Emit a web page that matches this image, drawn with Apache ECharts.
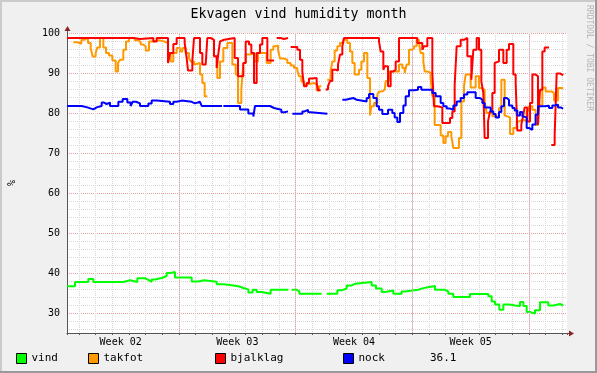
<!DOCTYPE html>
<html><head><meta charset="utf-8">
<script src="https://cdn.jsdelivr.net/npm/echarts@6/dist/echarts.min.js"></script>
<style>html,body{margin:0;padding:0;background:#f0f0f0}#c{width:597px;height:373px}</style>
</head><body><div id="c"></div>
<script>
const chartTitle = 'Ekvagen vind humidity month';
const yAxisName = '%';
const credit = 'RRDTOOL / TOBI OETIKER';
const lastValueText = '36.1';
// time in days since graph start; graph start is START_OFFSET days after Monday 00:00 of week 02
const START_OFFSET = 0.28;
const SPAN_DAYS = 30;
const END_TIME = 29.77;
const FIRST_WEEK = 2;
const weekStarts = [7, 14, 21, 28];
const yMin = 25, yMax = 100;
const seriesNames = ['vind', 'takfot', 'bjalklag', 'nock'];
const seriesColors = ['#00ff00', '#ff9900', '#ff0000', '#0000ff'];

const vind = [[0,36.7],[0.48,37.75],[1.28,38.5],[1.58,37.75],[3.38,38.2],[3.78,37.75],[4.22,38.7],[4.68,38.3],[4.88,37.8],[5.08,38.4],[5.28,38.75],[5.68,39.25],[5.98,40],[6.22,40.25],[6.48,38.9],[7.48,37.9],[7.88,38.2],[8.22,37.8],[8.98,37.2],[9.38,36.9],[9.98,36.7],[10.28,36.25],[10.58,35.9],[10.88,35.1],[11.14,35.8],[11.38,35.25],[11.68,34.8],[12.22,35.8],[13.28,null],[13.48,35.8],[13.78,35.4],[13.94,34.8],[15.28,null],[15.58,34.8],[16.22,35.7],[16.48,36.1],[16.78,36.9],[17.08,37.3],[17.28,37.75],[18.28,36.9],[18.54,36.1],[18.88,35.25],[19.08,35.6],[19.58,34.8],[20.08,35.4],[20.28,35.8],[21.08,36.1],[21.28,36.4],[21.58,36.75],[22.08,35.8],[22.68,35.4],[22.88,34.8],[23.18,34],[24.18,34.75],[25.28,34.2],[25.48,32.9],[25.68,32.1],[25.94,30.8],[26.18,32.1],[26.54,31.9],[26.88,31.75],[27.18,32.75],[27.38,31.75],[27.58,30.25],[27.78,29.85],[28.08,30.7],[28.38,32.7],[28.88,31.9],[29.18,32.25],[29.58,31.85]];

const takfot = [[0.38,97.7],[0.62,97.3],[0.86,98.3],[1.02,98.75],[1.26,97.5],[1.42,96.25],[1.54,94.1],[1.72,95],[1.82,96.4],[1.98,98.75],[2.18,96.4],[2.34,95],[2.52,94.4],[2.72,93.1],[2.92,90.4],[3.06,92.5],[3.18,93.3],[3.38,95.8],[3.54,97.9],[3.72,98.75],[4.06,98.2],[4.26,97.75],[4.42,97.1],[4.58,96.7],[4.72,95.6],[4.92,97.9],[5.12,98.2],[5.52,97.9],[5.82,97.5],[6.06,95],[6.22,92.9],[6.38,95],[6.58,96.25],[6.78,95.4],[6.92,96.25],[7.12,95],[7.32,93.75],[7.42,92.9],[7.62,92.1],[7.72,92.5],[7.98,89.6],[8.12,87.5],[8.26,84.2],[8.42,null],[8.82,94.2],[9.02,88.75],[9.18,92.9],[9.38,96.25],[9.62,97.5],[9.92,92.1],[10.12,89.6],[10.26,82.5],[10.46,85.8],[10.58,92.5],[10.72,94.6],[10.98,95],[11.26,92.9],[11.46,95],[11.82,95],[11.98,92.5],[12.22,95.8],[12.38,96.7],[12.52,96.9],[12.66,95.8],[12.78,93.6],[13.02,93.3],[13.22,92.5],[13.42,91.9],[13.62,91.25],[13.82,90.6],[13.92,89.2],[14.06,87.9],[14.22,87.1],[14.38,87.5],[14.82,87.1],[14.98,85.6],[15.12,86.7],[15.26,null],[15.62,88.3],[15.82,90.4],[15.92,92.9],[16.06,95.6],[16.22,96.7],[16.38,97.5],[16.58,98.3],[16.82,97.5],[16.98,95.4],[17.12,92.5],[17.26,89.6],[17.52,90.8],[17.66,92.9],[17.82,95],[18.02,88.75],[18.18,79.4],[18.26,81.7],[18.42,82.5],[18.62,84.6],[18.72,85.4],[18.92,85.8],[19.06,85.4],[19.12,88],[19.32,90.4],[19.92,92.1],[20.12,91.25],[20.26,90],[20.38,92.1],[20.52,95.8],[20.66,96.1],[20.82,96.7],[20.98,98.3],[21.12,97.5],[21.22,95],[21.38,92.9],[21.46,90.4],[21.62,90],[21.82,88.75],[21.92,84.2],[22.06,77],[22.42,74.4],[22.58,72.5],[22.72,74.2],[22.86,75.25],[23.06,74.2],[23.18,71.25],[23.52,73.75],[23.66,82.9],[23.82,86.7],[23.92,89.6],[24.22,86.4],[24.52,89.2],[24.72,86.25],[24.86,85.8],[25.06,82.9],[25.18,80],[25.52,79.2],[25.92,81.25],[26.06,88.3],[26.26,79.4],[26.38,78.9],[26.58,74.75],[26.78,76.25],[26.98,77.9],[27.12,78.3],[27.38,77.9],[27.58,80.6],[27.72,81.7],[27.92,80.8],[28.12,77],[28.26,81.9],[28.52,86.4],[28.72,85.4],[29.08,85],[29.22,83.1],[29.46,86.25]];

const bjalklag = [[0,98.75],[4.02,98.5],[4.38,98.75],[5.18,97.9],[5.38,98.75],[6.06,92.5],[6.18,95],[6.38,97.25],[6.58,98.75],[7.06,97.5],[7.18,93.75],[7.26,90.6],[7.52,93],[7.62,98.75],[7.98,95],[8.12,92.1],[8.32,92.5],[8.42,98.75],[8.62,98.3],[8.82,94.2],[8.98,91.25],[9.06,94.2],[9.18,97.9],[9.26,98.3],[9.42,98.75],[10.06,93.75],[10.26,89.2],[10.58,92.5],[10.72,97.9],[10.92,97.1],[11.06,95],[11.22,87.5],[11.38,95],[11.58,97.1],[11.72,98.75],[12.02,93.1],[12.42,null],[12.58,98.75],[12.82,98.5],[13.02,98.75],[13.26,null],[13.42,96.5],[13.62,96.1],[13.72,96.5],[13.82,95.8],[13.98,93.3],[14.12,90.4],[14.22,86.7],[14.38,87.5],[14.52,88.6],[14.72,88.3],[14.82,88.75],[14.98,87.5],[15.06,85.7],[15.22,null],[15.52,85.9],[15.66,86.7],[15.78,88],[15.92,90.8],[16.12,90.6],[16.26,92.1],[16.38,94.6],[16.52,96.7],[16.62,98.75],[18.72,97.9],[18.82,95.4],[18.98,90.8],[19.06,91.7],[19.26,86.7],[19.42,90.4],[19.58,90.8],[19.72,92.9],[19.92,98.75],[21.02,97.5],[21.32,95.8],[21.42,96.7],[21.62,98.75],[21.92,90],[22.02,81.7],[22.22,81.4],[22.52,77.5],[22.98,78.75],[23.12,80.4],[23.26,87],[23.38,96.7],[23.62,98.3],[23.82,98.75],[24.02,94.2],[24.26,88.3],[24.38,95.8],[24.58,98.75],[24.72,95.8],[24.86,87.9],[24.98,85],[25.06,73.75],[25.26,77.9],[25.38,80.4],[25.52,85],[25.66,92.5],[25.78,92.9],[25.92,95.8],[26.18,92.5],[26.38,95.8],[26.52,97.25],[26.78,89.6],[26.92,87.5],[27.02,75.6],[27.26,77.1],[27.38,79.6],[27.46,81.4],[27.62,77.9],[27.78,82.5],[27.92,89.6],[28.12,89.2],[28.26,77],[28.38,85.8],[28.52,95.4],[28.66,96.4],[28.92,null],[29.06,72],[29.26,74.5],[29.38,89.9],[29.58,89.4]];

const nock = [[0,81.75],[0.88,81.4],[1.22,80.9],[1.58,81.4],[1.78,81.75],[2.08,82.6],[2.22,82.25],[2.38,82.6],[2.58,81.75],[3.08,82.8],[3.34,83.5],[3.62,82.6],[3.82,81.75],[3.94,82.8],[4.14,82.4],[4.38,81.75],[4.88,82.4],[5.08,83.1],[5.38,82.8],[6.18,82.25],[6.38,82.8],[6.58,83.1],[6.88,82.8],[7.48,82.4],[7.68,82.8],[7.98,82.4],[8.08,81.75],[9.3,null],[9.38,81.75],[10.38,80.9],[10.88,79.9],[11.18,79.1],[11.28,81.75],[12.18,81.25],[12.42,80.8],[12.86,80.2],[13.06,80.4],[13.26,null],[13.52,79.8],[14.12,80.4],[14.26,80.8],[14.46,80.25],[14.58,79.8],[15.62,null],[16.52,83.3],[16.72,83.75],[17.18,83.3],[17.38,82.9],[17.98,83.75],[18.12,84.75],[18.38,83.75],[18.58,81.7],[18.72,80.8],[18.92,79.75],[19.26,80.8],[19.52,80],[19.66,78.9],[19.82,77.75],[19.98,80],[20.18,81.9],[20.32,84.2],[20.52,85.7],[20.82,85.8],[21.06,86.5],[21.26,85.8],[21.92,85],[22.12,84.2],[22.42,82.5],[22.58,81.7],[22.78,81.1],[22.98,80.8],[23.18,81.9],[23.38,82.9],[23.62,83.75],[23.82,84.6],[24.02,85.2],[24.52,83.75],[24.78,83.3],[24.92,82.5],[25.06,81.4],[25.42,80.4],[25.58,79.75],[25.72,78.9],[25.92,80.25],[26.06,81.7],[26.22,83.75],[26.38,83.3],[26.52,81.9],[26.72,81.25],[26.86,80.6],[27.02,79.4],[27.18,80.25],[27.32,79.2],[27.42,78.9],[27.58,76.25],[27.72,75.8],[27.92,77.1],[28.12,79.6],[28.26,81.7],[28.62,81.8],[28.92,81.25],[29.12,81.9],[29.26,82.1],[29.46,81.4],[29.62,81.1]];

const allData = [vind, takfot, bjalklag, nock];

function buildSteps(pts) {
  const out = [];
  let prev = null;
  for (const [t, v] of pts) {
    const x = t + START_OFFSET;
    if (v === null) {
      if (prev !== null) out.push([x, prev]);
      out.push([x, null]);
      prev = null;
    } else { out.push([x, v]); prev = v; }
  }
  if (prev !== null) out.push([END_TIME + START_OFFSET, prev]);
  return out;
}

const FONT = 'DejaVu Sans Mono';
const G = { left: 67, top: 33, width: 500, height: 300 };
const minorLine = { color: '#d6d6d6', type: [1, 1], width: 1 };
const majorLine = { color: '#eaa0a0', type: [1, 1], width: 1 };
const axisColor = '#555555';
const arrowColor = '#8e2222';

const series = seriesNames.map((n, i) => ({
  name: n, type: 'line', step: 'end', xAxisIndex: 0, yAxisIndex: 1,
  data: buildSteps(allData[i]), showSymbol: false, symbol: 'none',
  connectNulls: false, animation: false, z: 3 + i,
  lineStyle: { color: seriesColors[i], width: 2 }, itemStyle: { color: seriesColors[i] }
}));
series.unshift({
  type: 'line', xAxisIndex: 0, yAxisIndex: 1, data: [], z: 1, silent: true, animation: false,
  markLine: { symbol: ['none', 'none'], silent: true, animation: false, label: { show: false },
    lineStyle: majorLine, data: weekStarts.map(w => ({ xAxis: w })) }
});

const legendX = [16, 88, 215, 343];
const legends = seriesNames.map((n, i) => ({
  data: [n], left: legendX[i], top: 353, padding: 0, itemWidth: 10, itemHeight: 10,
  icon: 'rect', selectedMode: false, itemStyle: { borderColor: '#000', borderWidth: 1 },
  textStyle: { fontFamily: FONT, fontSize: 11, color: '#000' }
}));

const W = 597, H = 373;
const option = {
  backgroundColor: '#f0f0f0',
  animation: false,
  title: { text: chartTitle, left: 'center', top: 3,
    textStyle: { fontFamily: FONT, fontSize: 13.3, fontWeight: 'normal', color: '#000' } },
  legend: legends,
  grid: { left: G.left, top: G.top, width: G.width, height: G.height, show: true,
    backgroundColor: '#ffffff', borderWidth: 0, containLabel: false, outerBoundsMode: 'none' },
  xAxis: [
    { type: 'value', min: START_OFFSET, max: START_OFFSET + SPAN_DAYS, splitNumber: 30,
      axisLine: { show: true, onZero: false, lineStyle: { color: axisColor, width: 1 } },
      axisTick: { show: true, length: 2, lineStyle: { color: axisColor } },
      axisLabel: { show: false },
      splitLine: { show: true, showMinLine: false, showMaxLine: false, lineStyle: minorLine } },
    { type: 'value', min: START_OFFSET, max: START_OFFSET + SPAN_DAYS, splitNumber: 60,
      position: 'bottom', axisLine: { show: false }, axisTick: { show: false }, splitLine: { show: false },
      axisLabel: { show: true, margin: 4, fontFamily: FONT, fontSize: 10, color: '#000',
        formatter: v => {
          const m = ((v % 7) + 7) % 7;
          if (Math.abs(m - 3.5) < 1e-6) return 'Week ' + String(FIRST_WEEK + Math.floor(v / 7)).padStart(2, '0');
          return '';
        } } }
  ],
  yAxis: [
    { type: 'value', min: yMin, max: yMax, splitNumber: 37, position: 'left',
      axisLine: { show: false }, axisTick: { show: false }, axisLabel: { show: false },
      splitLine: { show: true, showMinLine: false, lineStyle: minorLine } },
    { type: 'value', min: yMin, max: yMax, splitNumber: 7, position: 'left',
      name: yAxisName, nameLocation: 'middle', nameRotate: 90, nameGap: 50,
      nameTextStyle: { fontFamily: FONT, fontSize: 10, color: '#000' },
      axisLine: { show: true, onZero: false, lineStyle: { color: axisColor, width: 1 } },
      axisTick: { show: false },
      axisLabel: { showMinLabel: false, margin: 7, fontFamily: FONT, fontSize: 10, color: '#000' },
      splitLine: { show: true, showMinLine: false, lineStyle: majorLine } }
  ],
  series: series,
  graphic: [
    { type: 'rect', shape: { x: 0, y: 0, width: W, height: 2 }, style: { fill: '#cbcbcb' }, silent: true },
    { type: 'rect', shape: { x: 0, y: 0, width: 2, height: H }, style: { fill: '#cbcbcb' }, silent: true },
    { type: 'rect', shape: { x: 0, y: H - 2, width: W, height: 2 }, style: { fill: '#999999' }, silent: true },
    { type: 'rect', shape: { x: W - 2, y: 0, width: 2, height: H }, style: { fill: '#999999' }, silent: true },
    { type: 'line', shape: { x1: G.left + G.width, y1: G.top + G.height + 0.5, x2: G.left + G.width + 3, y2: G.top + G.height + 0.5 },
      style: { stroke: axisColor, lineWidth: 1 }, silent: true },
    { type: 'line', shape: { x1: G.left + 0.5, y1: G.top, x2: G.left + 0.5, y2: G.top - 3 },
      style: { stroke: axisColor, lineWidth: 1 }, silent: true },
    { type: 'polygon', shape: { points: [[G.left + G.width + 2, G.top + G.height - 2.5], [G.left + G.width + 7, G.top + G.height + 0.5], [G.left + G.width + 2, G.top + G.height + 3.5]] },
      style: { fill: arrowColor }, silent: true, z: 10 },
    { type: 'polygon', shape: { points: [[G.left - 2.5, G.top - 2], [G.left + 0.5, G.top - 7], [G.left + 3.5, G.top - 2]] },
      style: { fill: arrowColor }, silent: true, z: 10 },
    { type: 'text', x: 589, y: 5, rotation: -Math.PI / 2, silent: true,
      style: { text: credit, fill: '#b4b4b4', font: '8px "DejaVu Sans Mono"', align: 'left', verticalAlign: 'middle' } },
    { type: 'text', x: 430, y: 358, silent: true,
      style: { text: lastValueText, fill: '#000', font: '11px "DejaVu Sans Mono"', align: 'left', verticalAlign: 'middle' } }
  ]
};
const chart = echarts.init(document.getElementById('c'), null, { renderer: 'canvas' });
chart.setOption(option);
</script></body></html>
